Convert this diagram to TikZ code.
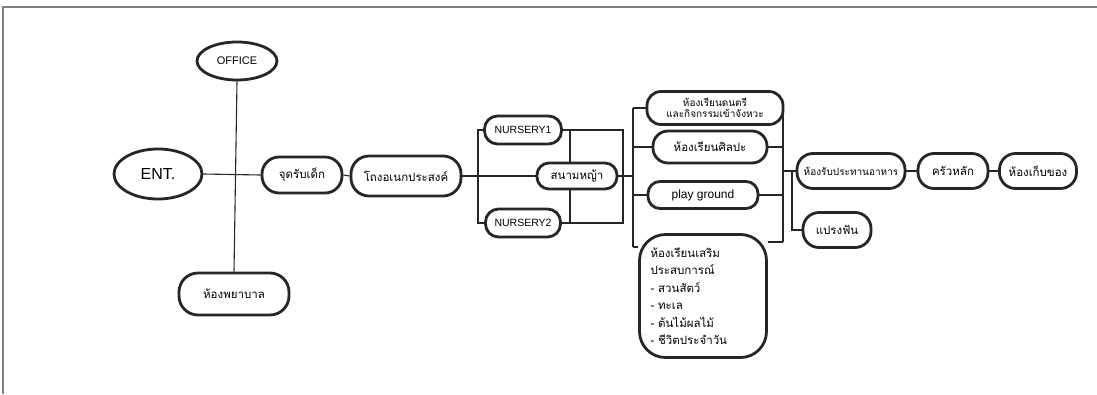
\documentclass[tikz,border=0pt]{standalone}
\usepackage{fontspec}
\setmainfont{Liberation Sans}
\newfontfamily\thai[Script=Thai]{Loma}
\usetikzlibrary{shapes.geometric}
\pgfdeclarelayer{bg}
\pgfsetlayers{bg,main}
\tikzset{
  bubble/.style={draw=black!85, line width=2.8pt, fill=white, inner sep=1pt, align=center,
    font=\thai\fontsize{11.5}{13}\selectfont},
  ell/.style={bubble, ellipse},
  link/.style={line width=1.1pt, draw=black!85},
  frameline/.style={line width=1.6pt, draw=black!50}
}
\begin{document}
\begin{tikzpicture}[x=1pt,y=-1pt]
\useasboundingbox (0,0) rectangle (1097,394);
\draw[frameline] (1097,7) -- (3,7) -- (3,394);

% nodes
\node[ell, minimum width=80pt, minimum height=38pt, font=\fontsize{11}{13}\selectfont] (office) at (237,61) {OFFICE};
\node[ell, minimum width=88pt, minimum height=50pt, font=\fontsize{16}{18}\selectfont] (ent) at (158,174) {ENT.};
\node[bubble, rounded corners=19pt, minimum width=110pt, minimum height=42pt] (nurse) at (234,294) {ห้องพยาบาล};
\node[bubble, rounded corners=17pt, minimum width=80pt, minimum height=36pt] (pick) at (302,175) {จุดรับเด็ก};
\node[bubble, rounded corners=18pt, minimum width=110pt, minimum height=40pt] (hall) at (406,176) {โถงอเนกประสงค์};
\node[bubble, rounded corners=13pt, minimum width=77pt, minimum height=28pt, font=\fontsize{10.5}{12}\selectfont] (n1) at (523,130) {NURSERY1};
\node[bubble, rounded corners=13pt, minimum width=75pt, minimum height=28pt, font=\fontsize{10.5}{12}\selectfont] (n2) at (523,223) {NURSERY2};
\node[bubble, rounded corners=12pt, minimum width=80pt, minimum height=26pt] (lawn) at (577,176) {สนามหญ้า};
\node[bubble, rounded corners=14pt, minimum width=136pt, minimum height=33pt, font=\thai\fontsize{10}{11.5}\selectfont] (music) at (715,108) {ห้องเรียนดนตรี\\และกิจกรรมเข้าจังหวะ};
\node[bubble, rounded corners=15pt, minimum width=114pt, minimum height=32pt] (art) at (710,147) {ห้องเรียนศิลปะ};
\node[bubble, rounded corners=12pt, minimum width=110pt, minimum height=27pt, font=\fontsize{12}{14}\selectfont] (play) at (703,195) {play ground};
\node[bubble, rounded corners=26pt, minimum width=127pt, minimum height=123pt, inner sep=0pt,
  text width=105pt, align=left,
  font=\thai\fontsize{11.5}{17.5}\selectfont] (exp) at (703,296)
  {ห้องเรียนเสริม\\ประสบการณ์\\- สวนสัตว์\\- ทะเล\\- ต้นไม้ผลไม้\\- ชีวิตประจำวัน};
\node[bubble, rounded corners=16pt, minimum width=108pt, minimum height=35pt, font=\thai\fontsize{10}{12}\selectfont] (dine) at (851,171) {ห้องรับประทานอาหาร};
\node[bubble, rounded corners=16pt, minimum width=70pt, minimum height=35pt] (kitchen) at (953,171) {ครัวหลัก};
\node[bubble, rounded corners=16pt, minimum width=77pt, minimum height=35pt] (store) at (1038,171) {ห้องเก็บของ};
\node[bubble, rounded corners=16pt, minimum width=68pt, minimum height=35pt] (teeth) at (837,230) {แปรงฟัน};

% junction coordinates
\coordinate (b1t) at (478,130);
\coordinate (b1b) at (478,223);
\coordinate (b2t) at (623,130);
\coordinate (b2b) at (623,223);
\coordinate (m1) at (570,130);
\coordinate (m2) at (570,223);
\coordinate (c1) at (633,108);
\coordinate (c2) at (633,147);
\coordinate (c3) at (633,176);
\coordinate (c4) at (633,195);
\coordinate (c5) at (633,247);
\coordinate (d1) at (783,104);
\coordinate (d2) at (783,147);
\coordinate (d3) at (783,171);
\coordinate (d4) at (783,195);
\coordinate (d5) at (783,242);
\coordinate (e1) at (792,171);
\coordinate (e2) at (792,230);

\begin{pgfonlayer}{bg}
\draw[link] (ent.east) -- (pick.west);
\draw[link] (office.south) -- (nurse.north);
\draw[link] (pick.east) -- (hall.west);
\draw[link] (hall.east) -- (lawn.west);
\draw[link] (n1.west) -- (b1t) -- (b1b) -- (n2.west);
\draw[link] (n1.east) -- (b2t) -- (b2b) -- (n2.east);
\draw[link] (m1) -- (m2);
\draw[link] (lawn.east) -- (c3);
\draw[link] (c1) -- (c5);
\draw[link] (c1) -- (music.west |- c1);
\draw[link] (c2) -- (art.west);
\draw[link] (c4) -- (play.west);
\draw[link] (c5) -- (exp.west |- c5);
\draw[link] (d1) -- (d5);
\draw[link] (music.east |- d1) -- (d1);
\draw[link] (art.east) -- (d2);
\draw[link] (play.east) -- (d4);
\draw[link] (exp.east |- d5) -- (d5);
\draw[link] (d3) -- (dine.west);
\draw[link] (e1) -- (e2) -- (teeth.west);
\draw[link] (dine.east) -- (kitchen.west);
\draw[link] (kitchen.east) -- (store.west);
\end{pgfonlayer}
\end{tikzpicture}
\end{document}
